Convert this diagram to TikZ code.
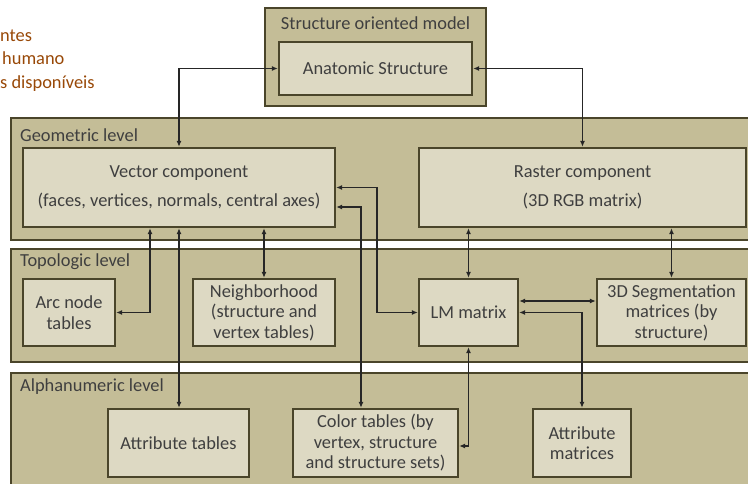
\documentclass[tikz,border=0pt]{standalone}
\usepackage{fontspec}
\setmainfont{Carlito}
\usetikzlibrary{arrows.meta,calc}
\definecolor{bandfill}{HTML}{C4BD97}
\definecolor{boxfill}{HTML}{DDD9C3}
\definecolor{edgecol}{HTML}{4A452A}
\definecolor{txtcol}{HTML}{3F3F3F}
\definecolor{notebrown}{HTML}{984807}
\definecolor{linecol}{HTML}{262626}
\begin{document}
\begin{tikzpicture}[x=1pt,y=-1pt,
  every node/.style={font=\fontsize{18.4}{20.5}\selectfont, text=txtcol},
  band/.style={draw=edgecol, line width=1.6pt, fill=bandfill, inner sep=0pt},
  inbox/.style={draw=edgecol, line width=2.4pt, fill=boxfill, inner sep=0pt, align=center},
  lab/.style={anchor=west, inner sep=0pt},
  conn/.style={draw=linecol, line width=1.1pt, {Latex[length=6pt,width=5pt]}-{Latex[length=6pt,width=5pt]}}
]
\useasboundingbox (0,0) rectangle (748,483);
\clip (0,0) rectangle (748,483);

% top-left cropped notes
\node[anchor=base west, inner sep=0pt, text=notebrown] (n1) at (0,41) {ntes};
\node[anchor=base west, inner sep=0pt, text=notebrown] (n2) at (2,64) {humano};
\node[anchor=base west, inner sep=0pt, text=notebrown] (n3) at (0,88) {s disponíveis};

% structure oriented model
\node[band, line width=2.2pt, minimum width=221pt, minimum height=98pt] (som) at (375.5,57) {};
\node (somlab) at (375.5,23) {Structure oriented model};
\node[inbox, minimum width=193pt, minimum height=53pt] (anat) at (375.5,68.5) {Anatomic Structure};

% bands
\node[band, minimum width=759pt, minimum height=122pt] (geo) at (390.5,179) {};
\node[lab] (geolab) at (20,135) {Geometric level};
\node[band, minimum width=759pt, minimum height=113pt] (topo) at (390.5,305.5) {};
\node[lab] (topolab) at (20,262) {Topologic level};
\node[band, minimum width=759pt, minimum height=127pt] (alpha) at (390.5,436.5) {};
\node[lab] (alphalab) at (20,387) {Alphanumeric level};

% geometric level boxes
\node[inbox, minimum width=312pt, minimum height=79pt] (vec) at (179,187.5)
  {Vector component\\[8.5pt](faces, vertices, normals, central axes)};
\node[inbox, minimum width=327pt, minimum height=79pt] (ras) at (582.5,187.5)
  {Raster component\\[8.5pt](3D RGB matrix)};

% topologic level boxes
\node[inbox, minimum width=92pt, minimum height=67pt] (arc) at (69,312.5) {Arc node\\tables};
\node[inbox, minimum width=142pt, minimum height=67pt] (nbh) at (264,312.5) {Neighborhood\\(structure and\\vertex tables)};
\node[inbox, minimum width=99pt, minimum height=67pt] (lm) at (468.5,312.5) {LM matrix};
\node[inbox, minimum width=149pt, minimum height=67pt] (seg) at (671.5,312.5) {3D Segmentation\\matrices (by\\structure)};

% alphanumeric level boxes
\node[inbox, minimum width=141pt, minimum height=68pt] (att) at (178.5,443) {Attribute tables};
\node[inbox, minimum width=165pt, minimum height=68pt] (col) at (375.5,443) {Color tables (by\\vertex, structure\\and structure sets)};
\node[inbox, minimum width=98pt, minimum height=68pt] (atm) at (582,443) {Attribute\\matrices};

% helper coordinates for vertical runs
\coordinate (k1) at (377,0);
\coordinate (k2) at (361,0);

% connectors
\draw[conn] (anat.west) -| (vec.north);
\draw[conn] (anat.east) -| (ras.north);
\draw[conn] ([xshift=-29pt]vec.south) |- (arc.east);
\draw[conn] (vec.south) -- (vec.south |- att.north);
\draw[conn] (nbh.north) -- (nbh.north |- vec.south);
\draw[conn] (vec.east) -- (vec.east -| k1) |- (lm.west);
\draw[conn] ([yshift=-19.5pt]vec.east) -| (k2 |- col.north);
\draw[conn] (lm.north) -- (lm.north |- ras.south);
\draw[conn] (seg.north) -- (seg.north |- ras.south);
\draw[conn] ([yshift=11.5pt]lm.east) -- ([yshift=11.5pt]lm.east -| seg.west);
\draw[conn] (lm.east) -| (atm.north);
\draw[conn] (lm.south) |- ([yshift=-3pt]col.east);
\end{tikzpicture}
\end{document}
